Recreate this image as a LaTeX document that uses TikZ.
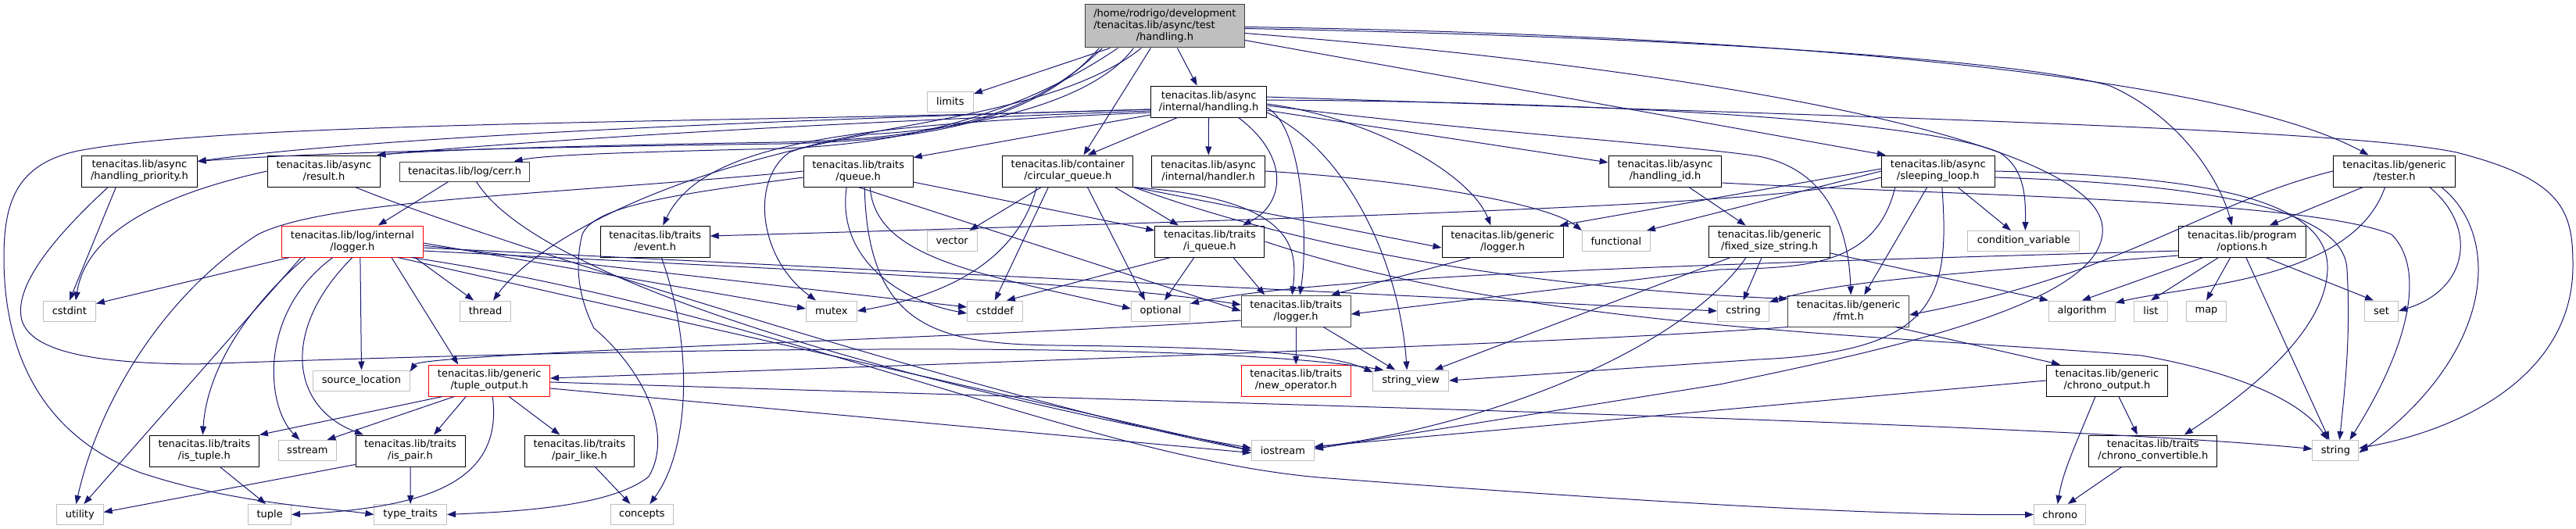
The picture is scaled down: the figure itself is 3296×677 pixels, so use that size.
\documentclass[tikz,border=0pt]{standalone}
\usepackage{fontspec}
\setmainfont{DejaVu Sans}
\usetikzlibrary{arrows.meta}
\definecolor{edgec}{HTML}{191970}
\definecolor{sysb}{HTML}{BFBFBF}
\definecolor{darkb}{HTML}{404040}
\definecolor{rootf}{HTML}{BFBFBF}
\tikzset{
  nd/.style={draw=black, line width=1pt, fill=white, inner sep=0pt, align=center, minimum height=40pt, font=\fontsize{13}{15}\selectfont},
  sysn/.style={nd, draw=sysb, minimum height=26pt},
  dk/.style={nd, draw=darkb},
  trn/.style={nd, draw=red},
  wd/.style={minimum width=#1pt},
  ed/.style={draw=edgec, line width=1pt, -{Triangle[length=11pt,width=8pt]}},
}
\begin{document}
\begin{tikzpicture}[x=1pt,y=-1pt]
\useasboundingbox (0,0) rectangle (3296,677);
\fill[white] (0,0) rectangle (3296,677);
% ---------------- nodes ----------------
\node[dk, fill=rootf, wd=203.5, minimum height=55pt] (R) at (1490.4,33.5) {\begin{tabular}{@{}l@{}}/home/rodrigo/development\\/tenacitas.lib/async/test\\\multicolumn{1}{@{}c@{}}{/handling.h}\end{tabular}};
\node[sysn, wd=59] (LIM) at (1215.9,130) {limits};
\node[nd, wd=148.2] (H) at (1546.6,130) {tenacitas.lib/async\\/internal/handling.h};
\node[nd, wd=147.5] (HP) at (178.4,219) {tenacitas.lib/async\\/handling\_priority.h};
\node[nd, wd=144.7] (RS) at (414.5,219) {tenacitas.lib/async\\/result.h};
\node[dk, wd=166.5, minimum height=25pt] (CE) at (594.6,219.5) {tenacitas.lib/log/cerr.h};
\node[nd, wd=140] (TQ) at (1098.2,219) {tenacitas.lib/traits\\/queue.h};
\node[nd, wd=167.1] (CQ) at (1366.4,219) {tenacitas.lib/container\\/circular\_queue.h};
\node[nd, wd=144.7] (HD) at (1546.2,219) {tenacitas.lib/async\\/internal/handler.h};
\node[nd, wd=144.7] (HI) at (2130.5,219) {tenacitas.lib/async\\/handling\_id.h};
\node[nd, wd=144.6] (SL) at (2479.8,219) {tenacitas.lib/async\\/sleeping\_loop.h};
\node[nd, wd=156.4] (TE) at (3063.6,219) {tenacitas.lib/generic\\/tester.h};
\node[trn, wd=180.4] (LI) at (450.9,309) {tenacitas.lib/log/internal\\/logger.h};
\node[nd, wd=140] (EV) at (838.2,309) {tenacitas.lib/traits\\/event.h};
\node[sysn, wd=63.6] (VE) at (1218.2,308.5) {vector};
\node[nd, wd=140] (IQ) at (1547.9,309) {tenacitas.lib/traits\\/i\_queue.h};
\node[nd, wd=155] (GL) at (1922.5,309) {tenacitas.lib/generic\\/logger.h};
\node[sysn, wd=87.1] (FN) at (2067.9,308.5) {functional};
\node[nd, wd=154.6] (FS) at (2264.1,309) {tenacitas.lib/generic\\/fixed\_size\_string.h};
\node[sysn, wd=142.8] (CV) at (2589.3,308.5) {condition\_variable};
\node[nd, wd=162.5] (OP) at (2868.8,309) {tenacitas.lib/program\\/options.h};
\node[sysn, wd=67.1] (CI) at (88.9,398) {cstdint};
\node[sysn, wd=65] (TH) at (621.1,398) {thread};
\node[sysn, wd=65] (MU) at (1063.9,398) {mutex};
\node[sysn, wd=70.7] (CD) at (1272.9,398) {cstddef};
\node[sysn, wd=75] (OPT) at (1485,398) {optional};
\node[dk, wd=140] (TL) at (1658.2,398) {tenacitas.lib/traits\\/logger.h};
\node[sysn, wd=66] (CS) at (2230.5,398) {cstring};
\node[dk, wd=154.6] (FM) at (2365.2,398) {tenacitas.lib/generic\\/fmt.h};
\node[sysn, wd=85] (AL) at (2663.9,398) {algorithm};
\node[sysn, wd=43] (LS) at (2752,398) {list};
\node[sysn, wd=51] (MP) at (2823,398) {map};
\node[sysn, wd=43] (SE) at (3047,398) {set};
\node[sysn, wd=123.6] (SRC) at (462.5,487) {source\_location};
\node[trn, wd=154.7] (TO) at (626.2,487) {tenacitas.lib/generic\\/tuple\_output.h};
\node[trn, wd=140] (NO) at (1658.2,487) {tenacitas.lib/traits\\/new\_operator.h};
\node[sysn, wd=96.8] (SV) at (1805.2,487) {string\_view};
\node[nd, wd=155.4] (CHO) at (2695.9,487) {tenacitas.lib/generic\\/chrono\_output.h};
\node[nd, wd=140] (IT) at (261.4,577) {tenacitas.lib/traits\\/is\_tuple.h};
\node[sysn, wd=74.6] (SS) at (393.4,576.5) {sstream};
\node[nd, wd=140] (IP) at (525,577) {tenacitas.lib/traits\\/is\_pair.h};
\node[nd, wd=140] (PL) at (741.4,577) {tenacitas.lib/traits\\/pair\_like.h};
\node[sysn, wd=80] (IO) at (1641.4,576.5) {iostream};
\node[nd, wd=163.9] (CC) at (2754.8,577) {tenacitas.lib/traits\\/chrono\_convertible.h};
\node[sysn, wd=59] (ST) at (2988.4,576.5) {string};
\node[sysn, wd=59.6] (UT) at (102.3,658.5) {utility};
\node[sysn, wd=54.6] (TU) at (345.2,658.5) {tuple};
\node[sysn, wd=92.5] (TT) at (525.2,658.5) {type\_traits};
\node[sysn, wd=80] (CO2) at (821.4,658.5) {concepts};
\node[sysn, wd=66.4] (CHR) at (2635.7,658.5) {chrono};
% ---------------- edges: root ----------------
\draw[ed] ([xshift=-70pt]R.south) -- (LIM);
\draw[ed] ([xshift=16pt]R.south) -- ([xshift=-15pt]H.north);
\draw[ed] ([xshift=-18pt]R.south) -- ([xshift=20pt]CQ.north);
\draw[ed] ([xshift=-84pt]R.south) .. controls (1330,150) and (1200,180) .. (1000,184) .. controls (700,188) and (400,195) .. ([yshift=-8pt]HP.north east);
\draw[ed] ([xshift=-80pt]R.south) .. controls (1320,150) and (1200,178) .. (1000,182) .. controls (750,186) and (550,192) .. ([xshift=-5pt]RS.north east);
\draw[ed] ([xshift=-60pt]R.south) .. controls (1300,150) and (1150,185) .. (1000,190) .. controls (800,195) and (700,198) .. ([xshift=63pt]CE.north);
\draw[ed] ([xshift=-40pt]R.south) .. controls (1400,130) and (1250,165) .. (1110,172) .. controls (800,230) and (670,330) .. ([xshift=10pt]TH.north);
\draw[ed] ([xshift=-30pt]R.south) .. controls (1350,150) and (1100,160) .. (1010,195) .. controls (960,230) and (970,330) .. ([xshift=-20pt]MU.north);
\draw[ed] ([yshift=-1pt]R.east) .. controls (2300,45) and (2850,100) .. ([xshift=-33pt]TE.north);
\draw[ed] ([yshift=-3pt]R.east) .. controls (2200,48) and (2600,80) .. (2700,110) .. controls (2790,150) and (2840,230) .. ([xshift=-13pt]OP.north);
\draw[ed] ([yshift=-9pt]R.east) .. controls (2200,90) and (2680,180) .. (2690,290) .. controls (2700,390) and (2400,450) .. (2200,492) -- ([yshift=2pt]IO.east);
\draw[ed] ([yshift=-18pt]R.east) -- ([xshift=-67pt]SL.north);
% ---------------- edges: internal/handling.h ----------------
\draw[ed] ([yshift=-10pt]H.west) .. controls (1100,150) and (500,172) .. ([yshift=-8pt]HP.north east);
\draw[ed] ([yshift=-12pt]H.west) .. controls (1100,155) and (700,178) .. ([xshift=-5pt]RS.north east);
\draw[ed] ([yshift=-14pt]H.west) .. controls (1100,160) and (900,180) .. ([xshift=10pt]EV.north);
\draw[ed] ([yshift=-17pt]H.west) -- ([yshift=-3pt]TQ.north east);
\draw[ed] ([yshift=-10pt]H.west) .. controls (900,158) and (300,155) .. (100,193) .. controls (20,210) and (5,260) .. (5,330) .. controls (5,460) and (60,560) .. (180,605) .. controls (300,645) and (420,650) .. (TT.west);
\draw[ed] ([xshift=-40pt]H.south) -- ([xshift=25pt]CQ.north);
\draw[ed] (H) -- (HD);
\draw[ed] (H) -- (HI);
\draw[ed] ([xshift=38pt]H.south) .. controls (1650,200) and (1645,260) .. ([xshift=42pt]IQ.north);
\draw[ed] ([yshift=-8pt]H.east) .. controls (1665,160) and (1675,300) .. ([xshift=5pt]TL.north);
\draw[ed] ([yshift=-14pt]H.east) .. controls (1720,190) and (1790,330) .. ([xshift=-5pt]SV.north);
\draw[ed] ([yshift=-3pt]H.east) .. controls (1750,150) and (1880,220) .. ([xshift=-15pt]GL.north);
\draw[ed] ([yshift=2pt]H.east) .. controls (2000,130) and (2450,150) .. (2558,195) .. controls (2590,215) and (2592,250) .. ([xshift=2pt]CV.north);
\draw[ed] ([yshift=-5pt]H.east) .. controls (1900,170) and (2150,185) .. (2250,200) .. controls (2330,215) and (2365,280) .. ([xshift=3pt]FM.north);
\draw[ed] ([yshift=6pt]H.east) .. controls (2400,150) and (3000,165) .. (3143,195) .. controls (3280,230) and (3292,270) .. (3292,340) .. controls (3292,480) and (3150,550) .. ([yshift=3pt]ST.east);
% ---------------- edges: second rank ----------------
\draw[ed] ([xshift=-30pt]HP.south) -- (CI.north);
\draw[ed] ([xshift=-40pt]HP.south) .. controls (40,330) and (20,380) .. (28,410) .. controls (40,450) and (120,465) .. (250,466) .. controls (700,450) and (1500,430) .. ([xshift=-35pt]SV.north);
\draw[ed] (RS.west) .. controls (200,250) and (110,300) .. ([xshift=8pt]CI.north);
\draw[ed] ([xshift=40pt]RS.south) .. controls (600,300) and (1300,520) .. (IO.west);
\draw[ed] (CE) -- (LI);
\draw[ed] ([xshift=15pt]CE.south) .. controls (700,380) and (1300,520) .. ([yshift=3pt]IO.west);
\draw[ed] (TQ.west) .. controls (700,250) and (420,255) .. (330,300) .. controls (220,370) and (130,500) .. ([xshift=-5pt]UT.north);
\draw[ed] ([yshift=-8pt]TQ.west) .. controls (850,250) and (760,265) .. (745,300) .. controls (735,340) and (740,380) .. (760,420) .. controls (830,480) and (860,560) .. (830,610) .. controls (780,650) and (650,655) .. (TT.east);
\draw[ed] (TQ) -- (IQ);
\draw[ed] (TQ.south) -- (TL.west);
\draw[ed] ([xshift=-15pt]TQ.south) .. controls (1070,330) and (1150,385) .. ([yshift=-3pt]CD.west);
\draw[ed] ([xshift=15pt]TQ.south) .. controls (1120,330) and (1250,350) .. ([yshift=3pt]OPT.west);
\draw[ed] ([xshift=8pt]TQ.south) .. controls (1110,420) and (1200,440) .. (1350,442) .. controls (1550,444) and (1700,450) .. ([yshift=-3pt]SV.north west);
\draw[ed] (CQ) -- (VE);
\draw[ed] ([xshift=-25pt]CQ.south) -- (CD.north);
\draw[ed] ([xshift=25pt]CQ.south) -- ([xshift=-20pt]OPT.north);
\draw[ed] ([xshift=60pt]CQ.south) -- ([xshift=-40pt]IQ.north);
\draw[ed] ([xshift=-40pt]CQ.south) .. controls (1300,340) and (1200,380) .. (MU.east);
\draw[ed] (CQ.south east) -- ([yshift=-8pt]GL.west);
\draw[ed] (CQ.south east) .. controls (1660,255) and (1660,320) .. ([xshift=-5pt]TL.north);
\draw[ed] (CQ.south east) .. controls (1700,330) and (2000,370) .. ([yshift=-5pt]FM.north west);
\draw[ed] (HD.east) .. controls (1800,230) and (1980,260) .. (FN.north west);
\draw[ed] (HI) -- (FS);
\draw[ed] ([yshift=-15pt]HI.east) .. controls (2500,250) and (2950,255) .. (3060,300) .. controls (3100,340) and (3090,430) .. ([xshift=18pt]ST.north);
\draw[ed] (SL.west) -- ([xshift=-5pt]FN.north east);
\draw[ed] ([yshift=3pt]SL.west) -- ([xshift=-5pt]GL.north east);
\draw[ed] ([yshift=-8pt]SL.west) .. controls (2300,255) and (2100,268) .. ([yshift=7pt]EV.east);
\draw[ed] ([xshift=-55pt]SL.south) .. controls (2400,345) and (2300,342) .. (2200,345) -- ([yshift=-4pt]TL.east);
\draw[ed] (SL) -- (CV);
\draw[ed] ([xshift=-14pt]SL.south) -- ([xshift=20pt]FM.north);
\draw[ed] ([xshift=5pt]SL.south) .. controls (2495,380) and (2480,450) .. (2250,460) -- (SV.east);
\draw[ed] (SL.east) .. controls (2800,225) and (2975,250) .. (2978,340) .. controls (2980,420) and (2880,500) .. ([xshift=40pt]CC.north);
\draw[ed] ([yshift=-8pt]SL.east) .. controls (2800,235) and (3000,262) .. (3003,345) .. controls (3008,430) and (3000,500) .. ([xshift=5pt]ST.north);
\draw[ed] ([xshift=-40pt]TE.south) -- ([xshift=35pt]OP.north);
\draw[ed] ([xshift=-12pt]TE.south) .. controls (3010,360) and (2800,365) .. ([yshift=-3pt]AL.north east);
\draw[ed] ([xshift=45pt]TE.south) .. controls (3170,290) and (3160,370) .. (SE.east);
\draw[ed] ([xshift=60pt]TE.south) .. controls (3200,300) and (3195,450) .. ([yshift=-3pt]ST.east);
\draw[ed] (TE.west) .. controls (2820,260) and (2720,350) .. ([yshift=-5pt]FM.east);
% ---------------- edges: third rank ----------------
\draw[ed] ([xshift=10pt]LI.south west) -- ([yshift=-4pt]CI.north east);
\draw[ed] ([xshift=25pt]LI.south west) -- ([xshift=5pt]UT.north);
\draw[ed] ([xshift=-60pt]LI.south) .. controls (320,390) and (265,470) .. ([xshift=-2pt]IT.north);
\draw[ed] ([xshift=-25pt]LI.south) .. controls (330,400) and (340,520) .. ([xshift=-10pt]SS.north);
\draw[ed] (LI.south) .. controls (360,420) and (370,520) .. ([xshift=-60pt]IP.north);
\draw[ed] ([xshift=10pt]LI.south) -- (SRC.north);
\draw[ed] ([xshift=50pt]LI.south) -- ([xshift=-40pt]TO.north);
\draw[ed] ([xshift=80pt]LI.south) -- ([xshift=-15pt]TH.north);
\draw[ed] ([yshift=-2pt]LI.east) -- ([yshift=3pt]MU.west);
\draw[ed] ([yshift=-5pt]LI.east) -- ([yshift=5pt]CD.west);
\draw[ed] ([yshift=-12pt]LI.east) .. controls (1000,345) and (1400,360) .. ([yshift=8pt]TL.west);
\draw[ed] ([yshift=-8pt]LI.east) -- (CS.west);
\draw[ed] ([xshift=58pt]LI.south) -- (IO.west);
\draw[ed] ([xshift=75pt]LI.south) .. controls (1000,400) and (1400,590) .. (1700,612) .. controls (2200,650) and (2450,660) .. (CHR.west);
\draw[ed] ([xshift=8pt]EV.south) .. controls (890,450) and (880,580) .. ([xshift=10pt]CO2.north);
\draw[ed] ([xshift=-50pt]IQ.south) -- ([xshift=15pt]CD.north);
\draw[ed] ([xshift=-20pt]IQ.south) -- ([xshift=5pt]OPT.north);
\draw[ed] ([xshift=30pt]IQ.south) -- ([xshift=-40pt]TL.north);
\draw[ed] (IQ.east) .. controls (1950,420) and (2400,428) .. (2740,455) .. controls (2880,480) and (2950,520) .. ([xshift=-10pt]ST.north);
\draw[ed] ([xshift=-40pt]GL.south) -- ([xshift=45pt]TL.north);
\draw[ed] ([xshift=-10pt]FS.south) -- (CS.north);
\draw[ed] ([yshift=-15pt]FS.east) -- (AL.north west);
\draw[ed] ([xshift=-50pt]FS.south) -- ([xshift=30pt]SV.north);
\draw[ed] ([xshift=-30pt]FS.south) .. controls (2150,450) and (1900,545) .. ([yshift=4pt]IO.east);
\draw[ed] ([yshift=-12pt]OP.west) .. controls (2300,335) and (1700,350) .. ([yshift=-4pt]OPT.north east);
\draw[ed] ([yshift=-18pt]OP.west) .. controls (2500,350) and (2350,360) .. ([yshift=-2pt]CS.north east);
\draw[ed] ([xshift=-50pt]OP.south) -- (AL.north);
\draw[ed] ([xshift=-30pt]OP.south) -- (LS.north);
\draw[ed] ([xshift=-15pt]OP.south) -- (MP.north);
\draw[ed] ([xshift=30pt]OP.south) -- ([xshift=-10pt]SE.north);
\draw[ed] ([xshift=5pt]OP.south) -- ([xshift=-8pt]ST.north);
% ---------------- edges: fourth rank ----------------
\draw[ed] (TL) -- (NO);
\draw[ed] ([xshift=35pt]TL.south) -- ([xshift=-20pt]SV.north);
\draw[ed] ([yshift=-12pt]TL.west) .. controls (1300,430) and (540,452) .. ([yshift=-2pt]SRC.north east);
\draw[ed] (FM.south west) .. controls (2000,440) and (1300,462) .. ([yshift=3pt]TO.east);
\draw[ed] ([xshift=60pt]FM.south) -- ([xshift=-60pt]CHO.north);
% ---------------- edges: fifth rank ----------------
\draw[ed] ([xshift=-60pt]TO.south) -- (IT.north east);
\draw[ed] ([xshift=-45pt]TO.south) -- ([xshift=25pt]SS.north);
\draw[ed] ([xshift=-30pt]TO.south) -- ([xshift=30pt]IP.north);
\draw[ed] ([xshift=25pt]TO.south) -- ([xshift=-25pt]PL.north);
\draw[ed] ([xshift=4pt]TO.south) .. controls (645,620) and (540,650) .. (TU.east);
\draw[ed] ([yshift=-10pt]TO.east) -- ([yshift=-3pt]IO.west);
\draw[ed] ([yshift=-2pt]TO.east) .. controls (1500,515) and (2600,540) .. ([yshift=2pt]ST.west);
\draw[ed] ([xshift=-15pt]CHO.south) .. controls (2660,560) and (2640,600) .. ([xshift=-3pt]CHR.north);
\draw[ed] ([xshift=15pt]CHO.south) -- ([xshift=-20pt]CC.north);
\draw[ed] (CHO.west) -- ([yshift=5pt]IO.east);
% ---------------- edges: bottom ----------------
\draw[ed] ([xshift=20pt]IT.south) -- ([xshift=-5pt]TU.north);
\draw[ed] ([yshift=3pt]IP.south west) -- ([yshift=3pt]UT.east);
\draw[ed] (IP) -- (TT);
\draw[ed] ([xshift=20pt]PL.south) -- ([xshift=-15pt]CO2.north);
\draw[ed] ([xshift=-40pt]CC.south) -- ([xshift=10pt]CHR.north);
\end{tikzpicture}
\end{document}
